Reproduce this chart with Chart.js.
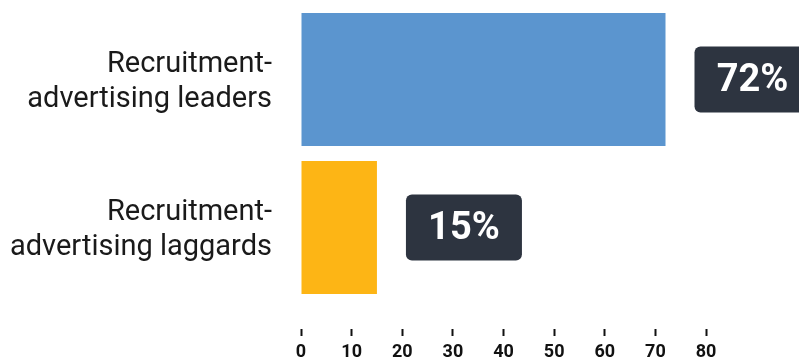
<!DOCTYPE html>
<html>
<head>
<meta charset="utf-8">
<script src="https://cdn.jsdelivr.net/npm/chart.js@4"></script>
<style>
html,body{margin:0;padding:0;background:#fff;}
#wrap{width:799px;height:358px;}
</style>
</head>
<body>
<div id="wrap"><canvas id="barChart"></canvas></div>
<script>
// data
const categories = [
  ["Recruitment-", "advertising leaders"],
  ["Recruitment-", "advertising laggards"]
];
const shares = [72, 15];
const barColors = ["#5b95cf", "#fdb515"];
const xTicks = [0, 10, 20, 30, 40, 50, 60, 70, 80];

// dark value boxes to the right of each bar
const valueBoxes = {
  id: "valueBoxes",
  afterDatasetsDraw(chart) {
    const ctx = chart.ctx;
    const meta = chart.getDatasetMeta(0);
    meta.data.forEach((bar, i) => {
      const w = 116, h = 66;
      const x = bar.x + 29;
      const y = bar.y - h / 2;
      ctx.save();
      ctx.fillStyle = "#2d3440";
      ctx.beginPath();
      ctx.roundRect(x, y, w, h, 6);
      ctx.fill();
      ctx.fillStyle = "#ffffff";
      ctx.font = "bold 38px Roboto";
      ctx.textAlign = "center";
      ctx.textBaseline = "middle";
      ctx.fillText(shares[i] + "%", x + w / 2, bar.y + 2);
      ctx.restore();
    });
  }
};

const chart = new Chart(document.getElementById("barChart"), {
  type: "bar",
  data: {
    labels: categories,
    datasets: [{
      data: shares,
      backgroundColor: barColors,
      categoryPercentage: 1,
      barPercentage: 0.9
    }]
  },
  options: {
    indexAxis: "y",
    responsive: true,
    maintainAspectRatio: false,
    animation: false,
    layout: { padding: { top: 5.5, right: 93 } },
    plugins: { legend: { display: false }, tooltip: { enabled: false } },
    scales: {
      x: {
        min: 0,
        max: 80,
        afterBuildTicks: s => { s.ticks = xTicks.map(v => ({ value: v })); },
        afterFit: s => { s.height = 56.5; },
        border: { display: false },
        grid: {
          drawOnChartArea: false,
          tickLength: 36,
          tickWidth: 2,
          tickColor: "#111",
          tickBorderDash: [0, 27, 7, 40]
        },
        ticks: {
          color: "#111",
          padding: 4,
          font: { family: "Roboto", size: 18, weight: "bold" }
        }
      },
      y: {
        afterFit: s => { s.width = 301; s.paddingTop = 0; s.paddingBottom = 0; },
        border: { display: false },
        grid: { display: false },
        ticks: {
          color: "#1a1a1a",
          padding: 21,
          labelOffset: 3,
          font: { family: "Roboto", size: 29, lineHeight: 1.21 }
        }
      }
    }
  },
  plugins: [valueBoxes]
});
</script>
</body>
</html>
